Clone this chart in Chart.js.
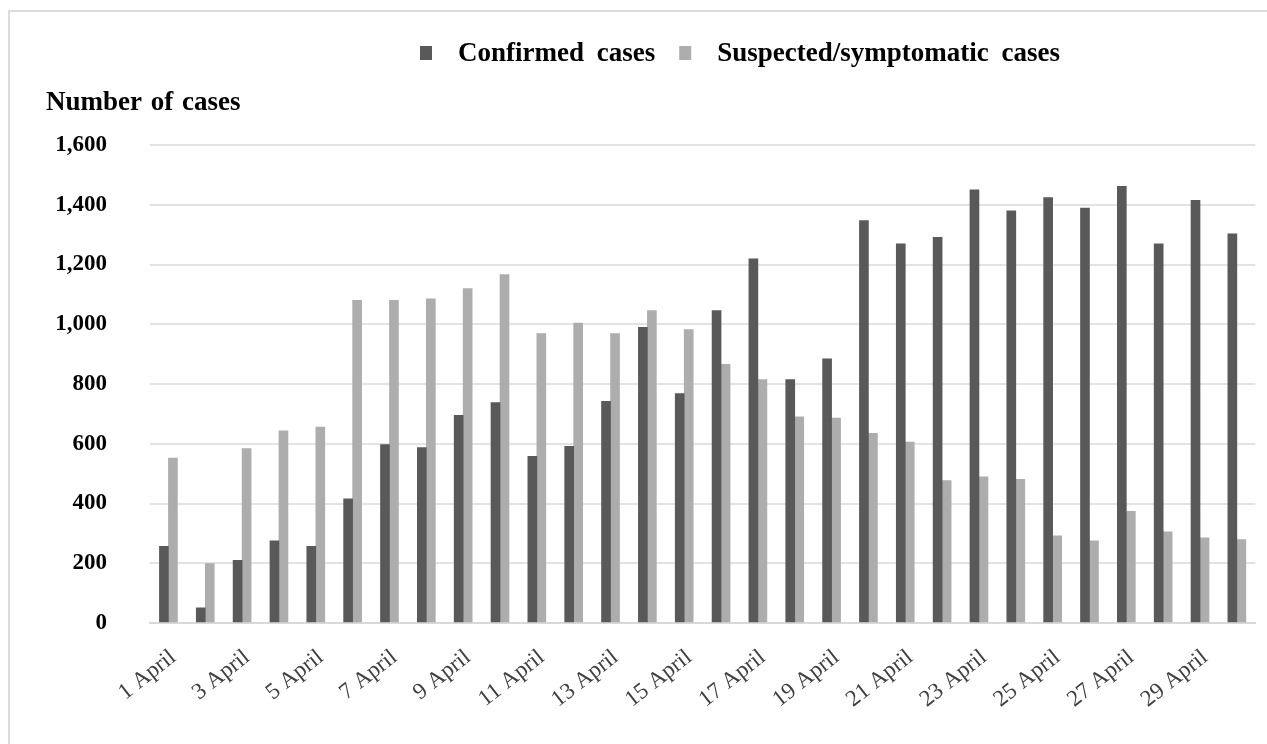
<!DOCTYPE html>
<html>
<head>
<meta charset="utf-8">
<script src="https://cdn.jsdelivr.net/npm/chart.js@4/dist/chart.umd.min.js"></script>
<style>
  html, body { margin: 0; padding: 0; background: #ffffff; }
  #wrap { width: 1267px; height: 744px; }
</style>
</head>
<body>
<div id="wrap"><canvas id="cases" width="1267" height="744"></canvas></div>
<script>
// Daily counts, 1–30 April
const days = [];
for (let d = 1; d <= 30; d++) days.push(d + ' April');

const confirmedCases = [257, 51, 210, 275, 257, 416, 597, 587, 695, 738,
                        558, 591, 742, 990, 768, 1046, 1219, 815, 884, 1347,
                        1269, 1291, 1450, 1380, 1424, 1389, 1462, 1269, 1415, 1303];
const suspectedCases = [552, 199, 584, 643, 656, 1080, 1080, 1085, 1119, 1166,
                        969, 1004, 969, 1046, 982, 866, 815, 690, 686, 635,
                        606, 477, 489, 481, 292, 275, 374, 305, 285, 279];

const seriesNames = ['Confirmed cases', 'Suspected/symptomatic cases'];
const yTicks = [0, 200, 400, 600, 800, 1000, 1200, 1400, 1600];
const axisHeading = 'Number of cases';

const SERIF = '"Liberation Serif", "Times New Roman", serif';

// Frame, legend row and the horizontal axis heading
const decorations = {
  id: 'decorations',
  beforeDraw(chart) {
    const ctx = chart.ctx;
    ctx.save();
    ctx.strokeStyle = '#dcdcdc';
    ctx.lineWidth = 2;
    ctx.beginPath();
    ctx.moveTo(9, chart.height);
    ctx.lineTo(9, 11);
    ctx.lineTo(chart.width, 11);
    ctx.stroke();
    ctx.restore();
  },
  afterDraw(chart) {
    const ctx = chart.ctx;
    ctx.save();
    ctx.textBaseline = 'middle';
    ctx.font = 'bold 27px ' + SERIF;
    if ('wordSpacing' in ctx) ctx.wordSpacing = '2px';
    ctx.fillStyle = '#000000';
    ctx.fillText(axisHeading, 46, 103);

    if ('wordSpacing' in ctx) ctx.wordSpacing = '6px';
    let x = 420;
    chart.data.datasets.forEach((ds) => {
      ctx.fillStyle = ds.backgroundColor;
      ctx.fillRect(x, 46, 12, 14);
      x += 12 + 26;
      ctx.fillStyle = '#000000';
      ctx.fillText(ds.label, x, 54);
      x += ctx.measureText(ds.label).width + 24;
    });
    ctx.restore();
  }
};

new Chart(document.getElementById('cases'), {
  type: 'bar',
  data: {
    labels: days,
    datasets: [
      { label: seriesNames[0], data: confirmedCases, backgroundColor: '#595959', barThickness: 9 },
      { label: seriesNames[1], data: suspectedCases, backgroundColor: '#adadad', barThickness: 9 }
    ]
  },
  options: {
    responsive: false,
    animation: false,
    devicePixelRatio: 1,
    layout: { padding: { top: 145, right: 9, left: 0, bottom: 0 } },
    plugins: {
      legend: { display: false },
      title: { display: false },
      tooltip: { enabled: false }
    },
    scales: {
      x: {
        grid: { display: false },
        border: { display: true, color: '#d9d9d9', width: 2 },
        ticks: {
          autoSkip: false,
          maxRotation: 38,
          minRotation: 38,
          padding: 13,
          labelOffset: 5,
          color: '#404040',
          font: { family: SERIF, size: 23 },
          callback: function (value, index) {
            return index % 2 === 0 ? this.getLabelForValue(value) : '';
          }
        },
        afterFit(scale) { scale.height = 121; }
      },
      y: {
        min: yTicks[0],
        max: yTicks[yTicks.length - 1],
        afterBuildTicks(scale) { scale.ticks = yTicks.map(v => ({ value: v })); },
        grid: { color: '#e3e3e3', lineWidth: 2, drawTicks: false },
        border: { display: false },
        ticks: {
          padding: 43,
          color: '#000000',
          font: { family: SERIF, size: 23, weight: 'bold' },
          callback: (v) => v.toLocaleString('en-US')
        },
        afterFit(scale) { scale.width = 150; }
      }
    }
  },
  plugins: [decorations]
});
</script>
</body>
</html>
